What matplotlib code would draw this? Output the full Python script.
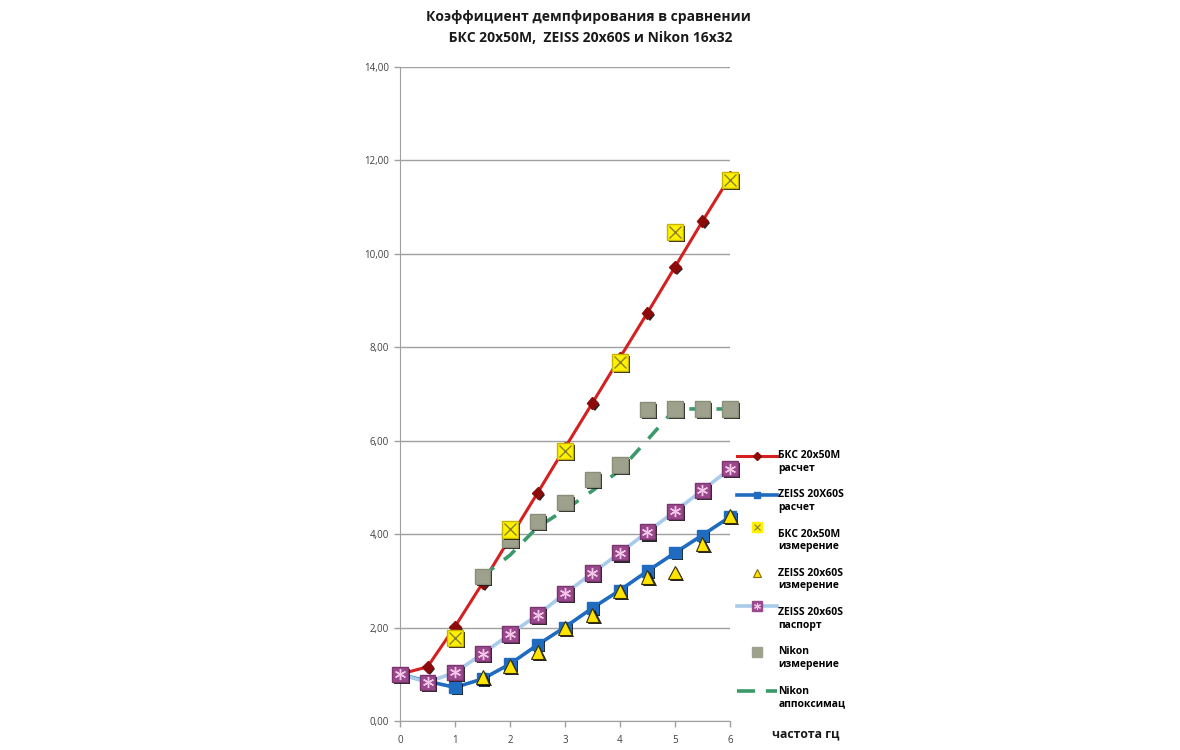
import numpy as np
import matplotlib.pyplot as plt
import matplotlib.patheffects as pe
from matplotlib.lines import Line2D
from matplotlib.legend_handler import HandlerLine2D, HandlerTuple

plt.rcParams['font.family'] = ['Open Sans', 'DejaVu Sans']

x_full = [0, 0.5, 1, 1.5, 2, 2.5, 3, 3.5, 4, 4.5, 5, 5.5, 6]
bks_calc = [1.0, 1.16, 2.02, 2.95, 3.92, 4.88, 5.85, 6.81, 7.78, 8.74, 9.72, 10.70, 11.65]
zeiss_calc = [1.0, 0.85, 0.72, 0.90, 1.22, 1.63, 2.01, 2.42, 2.80, 3.21, 3.60, 3.98, 4.37]
zeiss_pass = [1.0, 0.83, 1.04, 1.44, 1.86, 2.27, 2.73, 3.17, 3.60, 4.05, 4.49, 4.94, 5.40]

x_bks_meas = [1, 2, 3, 4, 5, 6]
bks_meas = [1.78, 4.10, 5.78, 7.68, 10.47, 11.58]

x_zeiss_meas = [1.5, 2, 2.5, 3, 3.5, 4, 4.5, 5, 5.5, 6]
zeiss_meas = [0.94, 1.17, 1.48, 1.99, 2.27, 2.79, 3.09, 3.18, 3.78, 4.39]

x_nikon = [1.5, 2, 2.5, 3, 3.5, 4, 4.5, 5, 5.5, 6]
nikon_meas = [3.09, 3.88, 4.27, 4.68, 5.17, 5.48, 6.67, 6.68, 6.68, 6.68]
nikon_approx = [3.10, 3.55, 4.15, 4.52, 4.93, 5.37, 6.02, 6.68, 6.68, 6.68]

title = "Коэффициент демпфирования в сравнении\n БКС 20x50M,  ZEISS 20x60S и Nikon 16x32"
labels = ["БКС 20x50M\nрасчет", "ZEISS 20X60S\nрасчет", "БКС 20x50M\nизмерение",
          "ZEISS 20x60S\nизмерение", "ZEISS 20x60S\nпаспорт", "Nikon\nизмерение",
          "Nikon\nаппоксимац"]


# legend handles sit on the first line of a two-line label, as in Excel
class UpLine(HandlerLine2D):
    def create_artists(self, legend, orig_handle, xdescent, ydescent, width, height, fontsize, trans):
        return super().create_artists(legend, orig_handle, xdescent, ydescent - 1.3 * fontsize,
                                      width, height, fontsize, trans)


class UpTuple(HandlerTuple):
    def create_artists(self, legend, orig_handle, xdescent, ydescent, width, height, fontsize, trans):
        return super().create_artists(legend, orig_handle, xdescent, ydescent - 1.3 * fontsize,
                                      width, height, fontsize, trans)


fig = plt.figure(figsize=(11.8, 7.5), dpi=100)
ax = fig.add_axes([400 / 1180, 29 / 750, 330 / 1180, 654 / 750])

shadow = [pe.SimplePatchShadow(offset=(1.5, -1.5), shadow_rgbFace='black', alpha=0.85), pe.Normal()]

# lines
ax.plot(x_full, bks_calc, color='#d42020', lw=2.2, zorder=3, clip_on=False)
ax.plot(x_full, bks_calc, ls='none', marker='D', ms=6, color='#8b0a0a', zorder=4,
        path_effects=shadow, clip_on=False)
ax.plot(x_full, zeiss_calc, color='#1f6bbf', lw=2.6, zorder=3, clip_on=False)
ax.plot(x_full, zeiss_calc, ls='none', marker='s', ms=8, color='#1f6bbf', zorder=4,
        path_effects=shadow, clip_on=False)
ax.plot(x_full, zeiss_pass, color='#a9cbea', lw=2.6, zorder=3, clip_on=False)
ax.plot(x_full, zeiss_pass, ls='none', marker='s', ms=11, color='#9a4a8c',
        mec='#7a3570', zorder=5, path_effects=shadow, clip_on=False)
ax.plot(x_full, zeiss_pass, ls='none', marker=(6, 2, 0), ms=8, mew=1.0,
        color='#f3c6ea', zorder=6, clip_on=False)
ax.plot(x_nikon, nikon_approx, color='#3a9a6a', lw=2.6, ls=(0, (4, 3.5)), zorder=3, clip_on=False)

# marker-only series
ax.plot(x_nikon, nikon_meas, ls='none', marker='s', ms=11, color='#9ea28c',
        mec='#8a8e78', zorder=5, path_effects=shadow, clip_on=False)
ax.plot(x_bks_meas, bks_meas, ls='none', marker='s', ms=12, color='#fff200',
        mec='#c8b400', zorder=6, path_effects=shadow, clip_on=False)
ax.plot(x_bks_meas, bks_meas, ls='none', marker='x', ms=9, mew=1.0, color='#8a8030',
        zorder=7, clip_on=False)
ax.plot(x_zeiss_meas, zeiss_meas, ls='none', marker='^', ms=10, color='#ffe400',
        mec='#3a3000', mew=0.8, zorder=6, path_effects=shadow, clip_on=False)

ax.set_xlim(0, 6)
ax.set_ylim(0, 14)
ax.set_xticks(range(0, 7))
ax.set_yticks(np.arange(0, 15, 2))
ax.set_yticklabels([f"{v:.2f}".replace('.', ',') for v in np.arange(0, 15, 2)])
ax.yaxis.grid(True, color='#a0a0a0', lw=1.0)
ax.set_axisbelow(True)
for side in ['top', 'right']:
    ax.spines[side].set_visible(False)
for side in ['left', 'bottom']:
    ax.spines[side].set_color('#a0a0a0')
ax.tick_params(axis='both', colors='#a0a0a0', labelcolor='#404040', labelsize=7, length=4, width=1)
ax.tick_params(axis='x', pad=6)
ax.tick_params(axis='y', pad=4)

fig.text(0.499, 0.963, title, ha='center', va='center', fontsize=10, fontweight='bold',
         color='#1a1a1a', linespacing=1.6)
fig.text(772 / 1180, 1 - 734 / 750, "частота гц", fontsize=8.8, fontweight='bold',
         color='#1a1a1a', va='center', ha='left')

# legend handles
h_bks = Line2D([], [], color='#d42020', lw=2.2, marker='D', ms=4, mfc='#8b0a0a', mec='#8b0a0a')
h_zc = Line2D([], [], color='#1f6bbf', lw=2.6, marker='s', ms=5, mfc='#1f6bbf', mec='#1f6bbf')
h_bm = (Line2D([], [], ls='none', marker='s', ms=7, color='#fff200'),
        Line2D([], [], ls='none', marker='x', ms=5, mew=0.8, color='#8a8030'))
h_zm = Line2D([], [], ls='none', marker='^', ms=6, mfc='#ffe400', mec='#8a6a00', mew=0.8)
h_zp = (Line2D([], [], color='#a9cbea', lw=2.6, marker='s', ms=7, mfc='#9a4a8c', mec='#9a4a8c'),
        Line2D([], [], ls='none', marker=(6, 2, 0), ms=5, mew=0.8, color='#f3c6ea'))
h_nk = Line2D([], [], ls='none', marker='s', ms=7, color='#9ea28c')
h_na = Line2D([], [], color='#3a9a6a', lw=2.6, ls=(0, (5, 3)))

fig.legend([h_bks, h_zc, h_bm, h_zm, h_zp, h_nk, h_na], labels,
           loc='upper left', bbox_to_anchor=(732 / 1180, 1 - 445 / 750),
           frameon=False, prop={'weight': 'bold', 'size': 7.5},
           handlelength=3.8, handletextpad=0.15, labelspacing=1.5, borderpad=0,
           handler_map={Line2D: UpLine(), tuple: UpTuple()})

plt.savefig("out.png", dpi=100)
